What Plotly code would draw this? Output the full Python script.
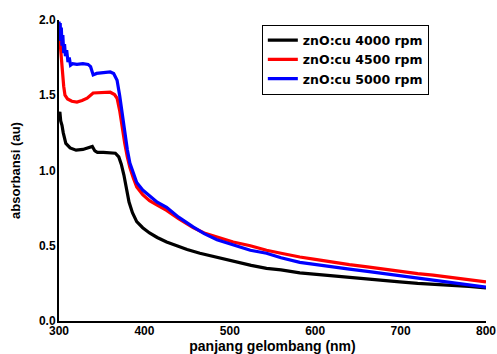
import plotly.graph_objects as go

wl_black = [300, 301, 302, 303.5, 305, 308, 313, 320, 328, 335, 339, 342, 345, 352, 360, 366, 370, 373, 376, 379, 382, 386, 391, 398, 406, 415, 426, 438, 450, 465, 480, 504, 525, 543, 560, 582, 600, 621, 640, 661, 680, 699, 720, 738, 760, 780, 800]
abs_black = [1.36, 1.39, 1.33, 1.30, 1.25, 1.18, 1.15, 1.135, 1.14, 1.15, 1.16, 1.13, 1.12, 1.12, 1.12, 1.115, 1.09, 1.04, 0.97, 0.88, 0.79, 0.72, 0.66, 0.62, 0.585, 0.555, 0.525, 0.50, 0.475, 0.45, 0.43, 0.395, 0.37, 0.35, 0.34, 0.32, 0.31, 0.30, 0.29, 0.28, 0.27, 0.26, 0.25, 0.245, 0.235, 0.23, 0.22]

wl_red = [300, 301, 302, 303, 304, 305.5, 307, 310, 315, 321, 327, 333, 340, 350, 360, 365, 368, 371, 374, 377, 380, 383, 387, 391, 398, 406, 415, 426, 440, 457, 470, 485, 504, 524, 543, 560, 582, 600, 621, 640, 661, 680, 699, 720, 738, 760, 780, 800]
abs_red = [1.93, 1.90, 1.80, 1.72, 1.65, 1.56, 1.50, 1.475, 1.46, 1.455, 1.465, 1.48, 1.515, 1.52, 1.52, 1.505, 1.48, 1.40, 1.28, 1.18, 1.09, 1.02, 0.95, 0.89, 0.84, 0.80, 0.77, 0.735, 0.68, 0.62, 0.585, 0.56, 0.525, 0.50, 0.47, 0.45, 0.425, 0.41, 0.39, 0.375, 0.36, 0.345, 0.33, 0.315, 0.305, 0.29, 0.275, 0.26]

wl_blue = [300, 300.7, 301.4, 302, 302.7, 303.5, 304.5, 305.5, 306.5, 307.5, 309, 310.5, 312, 313.5, 316, 321, 328, 334, 337, 340, 344, 350, 356, 360, 364, 368, 371, 374, 377, 380, 383, 387, 391, 398, 406, 415, 426, 440, 457, 470, 485, 504, 524, 543, 560, 582, 600, 621, 640, 661, 680, 699, 720, 738, 760, 780, 800]
abs_blue = [1.99, 1.90, 1.98, 1.86, 1.95, 1.83, 1.90, 1.78, 1.84, 1.76, 1.80, 1.72, 1.75, 1.70, 1.71, 1.705, 1.71, 1.705, 1.69, 1.635, 1.645, 1.65, 1.655, 1.655, 1.645, 1.60, 1.50, 1.37, 1.24, 1.14, 1.05, 0.98, 0.92, 0.87, 0.83, 0.79, 0.755, 0.69, 0.625, 0.58, 0.54, 0.505, 0.47, 0.45, 0.42, 0.39, 0.375, 0.36, 0.345, 0.33, 0.315, 0.30, 0.285, 0.27, 0.255, 0.24, 0.225]

series_names = ["znO:cu 4000 rpm", "znO:cu 4500 rpm", "znO:cu 5000 rpm"]
x_ticks = [300, 400, 500, 600, 700, 800]
y_ticks = [0.0, 0.5, 1.0, 1.5, 2.0]
y_tick_labels = ["0.0", "0.5", "1.0", "1.5", "2.0"]

font_family = "Liberation Sans, Arial, sans-serif"

fig = go.Figure()
for wl, ab, name, color in [
    (wl_black, abs_black, series_names[0], "black"),
    (wl_red, abs_red, series_names[1], "red"),
    (wl_blue, abs_blue, series_names[2], "blue"),
]:
    fig.add_trace(go.Scatter(x=wl, y=ab, mode="lines", name=name,
                             line=dict(color=color, width=3.2)))

fig.update_layout(
    width=497, height=354,
    margin=dict(l=59, r=11, t=20, b=33, autoexpand=False),
    paper_bgcolor="white", plot_bgcolor="white",
    font=dict(family=font_family, color="black"),
    showlegend=True,
    legend=dict(x=0.475, y=0.985, xanchor="left", yanchor="top",
                bgcolor="white", bordercolor="black", borderwidth=1,
                font=dict(size=12.5, family="DejaVu Sans, sans-serif", weight="bold"),
                tracegroupgap=0, itemwidth=30),
    xaxis=dict(range=[300, 800], tickvals=x_ticks, showgrid=False, zeroline=False,
               showline=True, linecolor="black", linewidth=2, ticks="",
               automargin=False,
               tickfont=dict(size=12, weight="bold"), ticklabelstandoff=-2,
               title=dict(text="<b>panjang gelombang (nm)</b>", font=dict(size=14), standoff=3)),
    yaxis=dict(range=[0, 2.0], tickvals=y_ticks, ticktext=y_tick_labels, showgrid=False,
               zeroline=False, showline=True, linecolor="black", linewidth=2, ticks="",
               automargin=False,
               tickfont=dict(size=12, weight="bold"), ticklabelstandoff=-1,
               title=dict(text="<b>absorbansi (au)</b>", font=dict(size=13), standoff=15)),
)

fig.write_html("out.html",
               config={"displayModeBar": False},
               post_script="document.body.style.margin='0';document.body.style.overflow='hidden';")
